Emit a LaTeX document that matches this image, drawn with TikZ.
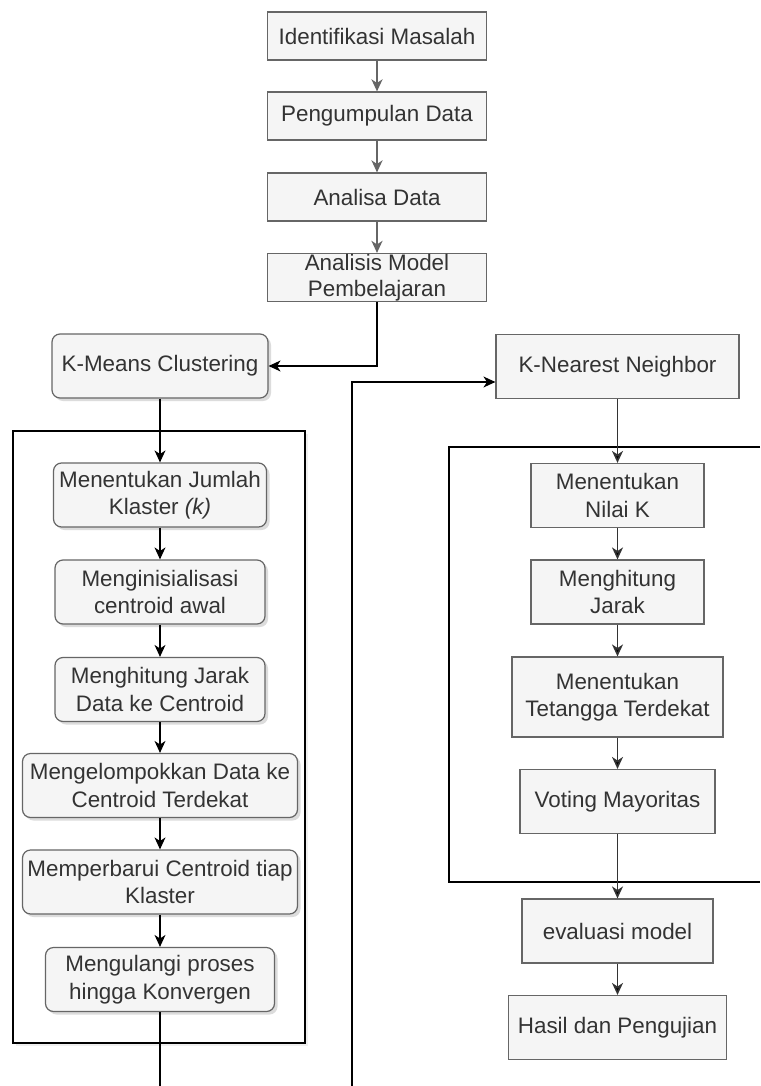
\documentclass[tikz,border=0pt]{standalone}
\usepackage{fontspec}
\setmainfont{Liberation Sans}
\usetikzlibrary{arrows.meta,shadows}
\definecolor{boxfill}{HTML}{F5F5F5}
\definecolor{boxline}{HTML}{666666}
\definecolor{boxtext}{HTML}{333333}

\begin{document}
\begin{tikzpicture}
[ x=0.5pt, y=-0.5pt, line width=0.5pt
, font=\fontsize{11.2}{13.8}\selectfont
, stage/.style={rectangle, draw=boxline, line width=0.6pt, fill=boxfill, text=boxtext, align=center, inner sep=0pt, minimum height=32pt}
, topstage/.style={stage, minimum width=109.5pt, minimum height=24pt}
, kmstage/.style={stage, rounded corners=4pt, drop shadow={opacity=0.3, fill=black!45, shadow xshift=1.5pt, shadow yshift=-1.5pt}}
, frame/.style={draw=black, line width=0.65pt}
, greyflow/.style={draw=boxline, line width=0.9pt, -{Stealth[length=6pt, width=5.5pt, inset=1.8pt]}}
, flow/.style={draw=black, line width=0.7pt, -{Stealth[length=6pt, width=5.5pt, inset=1.8pt]}}
, darkflow/.style={draw=boxtext, line width=0.8pt, -{Stealth[length=6pt, width=5.5pt, inset=1.8pt, fill=black]}}
]
\fill[white] (0,0) rectangle (760,1086);
\useasboundingbox (0,0) rectangle (760,1086);

% frames behind the two methods
\draw [frame, drop shadow={opacity=0.15, fill=black!40, shadow xshift=1.5pt, shadow yshift=-1.5pt}, fill=white] (13,431) rectangle (305,1043);
\draw [frame] (760,447) -| (449,882) -- (760,882);

% main steps:
\node (idmasalah) [topstage] at (377,36) {Identifikasi Masalah};
\node (kumpuldata) [topstage] at (377,116) {Pengumpulan Data};
\node (analisadata) [topstage] at (377,197) {Analisa Data};
\node (analisismodel) [topstage, font=\fontsize{11.2}{13}\selectfont] at (377,277.5) {Analisis Model\\Pembelajaran};

% K-Means column:
\node (kmeans) [kmstage, minimum width=108pt] at (160,366) {K-Means Clustering};
\node (km1) [kmstage, minimum width=106.5pt] at (160,495) {Menentukan Jumlah\\Klaster \textit{(k)}};
\node (km2) [kmstage, minimum width=105pt] at (160,592) {Menginisialisasi\\centroid awal};
\node (km3) [kmstage, minimum width=105pt] at (160,689.5) {Menghitung Jarak\\Data ke Centroid};
\node (km4) [kmstage, minimum width=137.5pt] at (160,785.5) {Mengelompokkan Data ke\\Centroid Terdekat};
\node (km5) [kmstage, minimum width=137.5pt] at (160,882) {Memperbarui Centroid tiap\\Klaster};
\node (km6) [kmstage, minimum width=114.5pt] at (160,979.5) {Mengulangi proses\\hingga Konvergen};

% K-NN column:
\node (knn) [stage, minimum width=121.5pt] at (617.5,366.5) {K-Nearest Neighbor};
\node (kn1) [stage, minimum width=86.5pt] at (617.5,495.5) {Menentukan\\Nilai K};
\node (kn2) [stage, minimum width=86.5pt] at (617.5,592) {Menghitung\\Jarak};
\node (kn3) [stage, minimum width=105.5pt, minimum height=40pt] at (617.5,697) {Menentukan\\Tetangga Terdekat};
\node (kn4) [stage, minimum width=97.5pt] at (617.5,801.5) {Voting Mayoritas};
\node (evaluasi) [stage, minimum width=95.5pt] at (617.5,931) {evaluasi model};
\node (hasil) [stage, minimum width=109pt] at (617.5,1027.5) {Hasil dan Pengujian};

\coordinate (kmout) at (160,1086);
\coordinate (knnin) at (352,1086);
\coordinate (knnturn) at (352,382);

\draw [greyflow] (idmasalah) -- (kumpuldata);
\draw [greyflow] (kumpuldata) -- (analisadata);
\draw [greyflow] (analisadata) -- (analisismodel);
\draw [flow] (analisismodel.south) |- (kmeans.east);
\draw [flow] (knnin) -- (knnturn) -- (knnturn -| knn.west);

\draw [flow] (kmeans) -- (km1);
\draw [flow] (km1) -- (km2);
\draw [flow] (km2) -- (km3);
\draw [flow] (km3) -- (km4);
\draw [flow] (km4) -- (km5);
\draw [flow] (km5) -- (km6);
\draw [draw=black, line width=0.7pt] (km6) -- (kmout);

\draw [darkflow] (knn) -- (kn1);
\draw [darkflow] (kn1) -- (kn2);
\draw [darkflow] (kn2) -- (kn3);
\draw [darkflow] (kn3) -- (kn4);
\draw [darkflow] (kn4) -- (evaluasi);
\draw [darkflow] (evaluasi) -- (hasil);
\end{tikzpicture}
\end{document}
